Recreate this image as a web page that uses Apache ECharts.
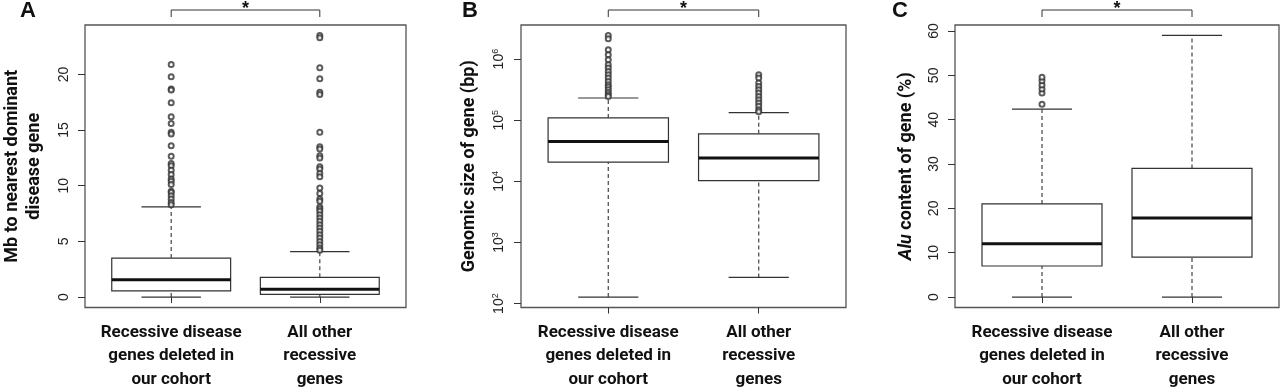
<!DOCTYPE html>
<html>
<head>
<meta charset="utf-8">
<script src="https://cdn.jsdelivr.net/npm/echarts@6/dist/echarts.min.js"></script>
<style>
html, body { margin: 0; padding: 0; background: #fff; }
#main { width: 1280px; height: 391px; }
</style>
</head>
<body>
<div id="main"></div>
<script>
// 分类
var categories = ['Recessive disease\ngenes deleted in\nour cohort', 'All other\nrecessive\ngenes'];

// 箱线统计: [下须, Q1, 中位数, Q3, 上须]
// A: Mb to nearest dominant disease gene
var distBoxDeleted = [0, 0.55, 1.55, 3.5, 8.1];
var distBoxOther = [0, 0.24, 0.69, 1.77, 4.08];
var distOutDeleted = [20.9, 19.8, 18.7, 18.6, 17.45, 16.2, 15.6, 14.8, 14.65, 13.6, 12.65, 12.0, 11.8, 11.4, 11.0, 10.6, 10.4, 10.1, 9.5, 9.4, 9.1, 8.8, 8.5, 8.3];
var distOutOther = [23.5, 23.3, 20.6, 19.6, 18.4, 18.2, 14.8, 13.5, 13.3, 12.7, 12.5, 11.7, 11.5, 11.1, 10.8, 9.8, 9.3, 8.8, 8.6, 8.1, 7.9, 7.7, 7.4, 7.1, 6.8, 6.5, 6.2, 5.9, 5.6, 5.3, 5.0, 4.7, 4.4, 4.2];

// B: Genomic size of gene (bp)
var sizeBoxDeleted = [128, 20700, 44800, 109000, 231000];
var sizeBoxOther = [268, 10300, 24000, 59900, 133000];
var sizeOutDeleted = [2440000, 2150000, 1420000, 1180000, 975000, 807000, 713000, 629000, 554000, 490000, 432000, 381000, 349000, 315000, 285000, 261000, 245000];
var sizeOutOther = [555000, 490000, 405000, 357000, 315000, 278000, 245000, 216000, 191000, 169000, 149000, 137000];

// C: Alu content of gene (%)
var aluBoxDeleted = [0, 7, 12, 21, 42.4];
var aluBoxOther = [0, 9, 17.8, 29, 59];
var aluOutDeleted = [43.5, 46.0, 46.9, 47.8, 48.8, 49.6];
var aluOutOther = [];

// 刻度
var distTicks = [0, 5, 10, 15, 20];
var sizeTickExp = [2, 3, 4, 5, 6];
var aluTicks = [0, 10, 20, 30, 40, 50, 60];

var chart = echarts.init(document.getElementById('main'));

function boxData(boxes, fn) {
    return boxes.map(function (b, i) {
        return [i + 1].concat(b.map(fn || function (v) { return v; }));
    });
}
function outData(lists, fn) {
    var out = [];
    lists.forEach(function (list, i) {
        list.forEach(function (v) { out.push([i + 1, fn ? fn(v) : v]); });
    });
    return out;
}

// R 风格箱线: 虚线须, 短横帽, 粗中位线
function renderBox(params, api) {
    var x = api.value(0);
    var lo = api.coord([x, api.value(1)]);
    var q1 = api.coord([x, api.value(2)]);
    var md = api.coord([x, api.value(3)]);
    var q3 = api.coord([x, api.value(4)]);
    var hi = api.coord([x, api.value(5)]);
    var half = api.coord([x + 0.4, api.value(3)])[0] - md[0];
    var cap = half / 2;
    var cx = md[0];
    var solid = { stroke: '#333', lineWidth: 1.2 };
    var dash = { stroke: '#444', lineWidth: 1.2, lineDash: [4, 3] };
    return {
        type: 'group',
        children: [
            { type: 'line', shape: { x1: cx, y1: lo[1], x2: cx, y2: q1[1] }, style: dash },
            { type: 'line', shape: { x1: cx, y1: q3[1], x2: cx, y2: hi[1] }, style: dash },
            { type: 'line', shape: { x1: cx - cap, y1: lo[1], x2: cx + cap, y2: lo[1] }, style: solid },
            { type: 'line', shape: { x1: cx - cap, y1: hi[1], x2: cx + cap, y2: hi[1] }, style: solid },
            { type: 'rect', shape: { x: cx - half, y: q3[1], width: 2 * half, height: q1[1] - q3[1] }, style: { fill: '#fff', stroke: '#333', lineWidth: 1.2 } },
            { type: 'line', shape: { x1: cx - half, y1: md[1], x2: cx + half, y2: md[1] }, style: { stroke: '#111', lineWidth: 3 } }
        ]
    };
}

var grids = [
    { left: 82, top: 25, width: 324, height: 283 },
    { left: 521, top: 25, width: 325, height: 284 },
    { left: 955, top: 25, width: 324, height: 283 }
];

var titleStyle = { fontFamily: 'Roboto', fontWeight: 'bold', fontSize: 18, color: '#111', lineHeight: 22 };

function xAxisFor(i) {
    return {
        gridIndex: i, type: 'value', min: 0.42, max: 2.58,
        axisLine: { show: false }, splitLine: { show: false },
        axisTick: { customValues: [1, 2], length: 6, lineStyle: { color: '#333' } },
        axisLabel: {
            customValues: [1, 2], margin: 13,
            formatter: function (v) { return categories[Math.round(v) - 1]; },
            fontFamily: 'Roboto', fontWeight: 'bold', fontSize: 17,
            lineHeight: 23.5, color: '#111'
        }
    };
}

function yAxisFor(i, min, max, ticks, name, gap, fmt) {
    return {
        gridIndex: i, type: 'value', min: min, max: max,
        axisLine: { show: false }, splitLine: { show: false },
        axisTick: { customValues: ticks, length: 7, lineStyle: { color: '#333' } },
        axisLabel: {
            customValues: ticks, rotate: 90, margin: 14, formatter: fmt,
            fontFamily: 'Liberation Sans', fontSize: 14, color: '#222',
            rich: { s: { fontFamily: 'Liberation Sans', fontSize: 9, color: '#222', padding: [0, 0, 7, 0] } }
        },
        name: name, nameLocation: 'middle', nameRotate: 90, nameGap: gap,
        nameTextStyle: Object.assign({ rich: { i: Object.assign({}, titleStyle, { fontStyle: 'italic' }) } }, titleStyle)
    };
}

var log10 = function (v) { return Math.log10(v); };
var plain = function (v) { return String(v); };

var option = {
    animation: false,
    backgroundColor: '#fff',
    grid: grids.map(function (g) {
        return Object.assign({ show: true, borderColor: '#555', borderWidth: 1.3, backgroundColor: 'transparent' }, g);
    }),
    xAxis: [xAxisFor(0), xAxisFor(1), xAxisFor(2)],
    yAxis: [
        yAxisFor(0, -0.94, 24.44, distTicks, 'Mb to nearest dominant\ndisease gene', 40, plain),
        yAxisFor(1, 1.936, 6.558, sizeTickExp, 'Genomic size of gene (bp)', 41,
            function (v) { return '10{s|' + Math.round(v) + '}'; }),
        yAxisFor(2, -2.36, 61.36, aluTicks, '{i|Alu} content of gene (%)', 38, plain)
    ],
    series: [
        { type: 'custom', xAxisIndex: 0, yAxisIndex: 0, renderItem: renderBox, encode: { x: 0, y: [1, 2, 3, 4, 5] }, data: boxData([distBoxDeleted, distBoxOther]) },
        { type: 'custom', xAxisIndex: 1, yAxisIndex: 1, renderItem: renderBox, encode: { x: 0, y: [1, 2, 3, 4, 5] }, data: boxData([sizeBoxDeleted, sizeBoxOther], log10) },
        { type: 'custom', xAxisIndex: 2, yAxisIndex: 2, renderItem: renderBox, encode: { x: 0, y: [1, 2, 3, 4, 5] }, data: boxData([aluBoxDeleted, aluBoxOther]) },
        { type: 'scatter', xAxisIndex: 0, yAxisIndex: 0, symbol: 'emptyCircle', symbolSize: 5, itemStyle: { color: '#333', borderColor: '#333', borderWidth: 0.8 }, data: outData([distOutDeleted, distOutOther]) },
        { type: 'scatter', xAxisIndex: 1, yAxisIndex: 1, symbol: 'emptyCircle', symbolSize: 5, itemStyle: { color: '#333', borderColor: '#333', borderWidth: 0.8 }, data: outData([sizeOutDeleted, sizeOutOther], log10) },
        { type: 'scatter', xAxisIndex: 2, yAxisIndex: 2, symbol: 'emptyCircle', symbolSize: 5, itemStyle: { color: '#333', borderColor: '#333', borderWidth: 0.8 }, data: outData([aluOutDeleted, aluOutOther]) }
    ]
};

chart.setOption(option);

// 面板字母和显著性括号
var letters = ['A', 'B', 'C'];
var letterX = [20, 462, 892];
var graphics = [];
letters.forEach(function (L, i) {
    graphics.push({ type: 'text', x: letterX[i], y: 0, style: { text: L, font: 'bold 22px "Liberation Sans"', fill: '#111', textVerticalAlign: 'top' } });
    var x1 = chart.convertToPixel({ xAxisIndex: i }, 1);
    var x2 = chart.convertToPixel({ xAxisIndex: i }, 2);
    graphics.push({ type: 'polyline', shape: { points: [[x1, 17], [x1, 10], [x2, 10], [x2, 17]] }, style: { stroke: '#333', fill: null, lineWidth: 1 } });
    graphics.push({ type: 'text', x: (x1 + x2) / 2, y: 0, style: { text: '*', font: 'bold 18px "Liberation Sans"', fill: '#111', textAlign: 'center', textVerticalAlign: 'top' } });
});
chart.setOption({ graphic: graphics });
</script>
</body>
</html>
